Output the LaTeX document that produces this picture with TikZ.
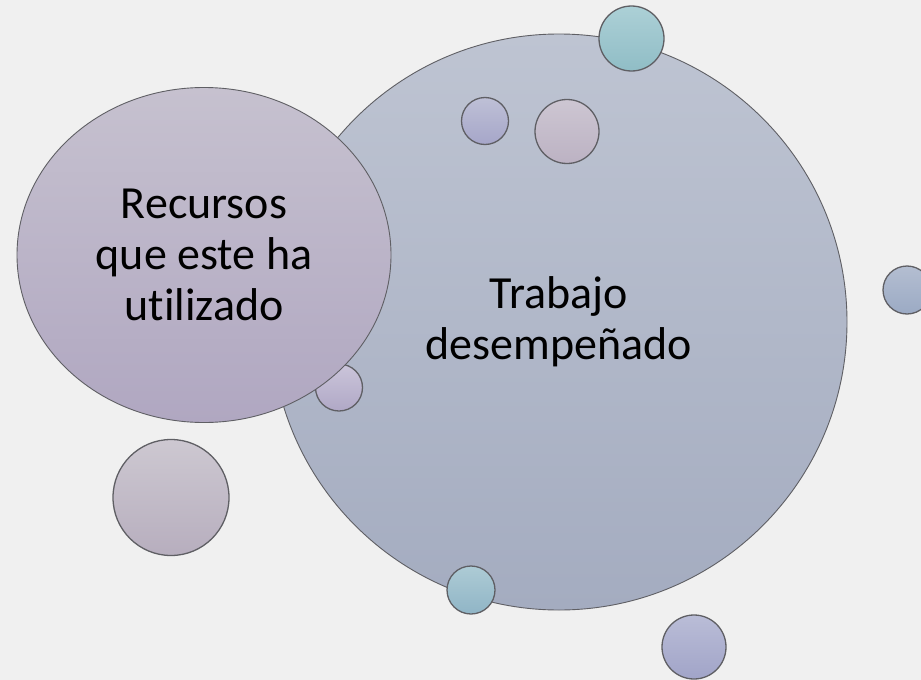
\documentclass[tikz,border=0pt]{standalone}
\usepackage{fontspec}
\setmainfont[RawFeature={-liga}]{Carlito}
\usetikzlibrary{shapes.geometric}
\definecolor{bg}{RGB}{240,240,240}
\definecolor{edge}{RGB}{95,95,100}
\tikzset{
  bubble/.style={circle, draw=edge, line width=1.3pt, inner sep=0pt, minimum size=#1},
  bigbubble/.style={circle, draw=edge, line width=0.9pt, inner sep=0pt, minimum size=#1, align=center,
    font=\fontsize{46}{51}\selectfont},
}
\begin{document}
\begin{tikzpicture}[x=1pt,y=-1pt]
\fill[bg] (0,0) rectangle (921,680);
\useasboundingbox (0,0) rectangle (921,680);
% big circle
\node[bigbubble=576pt, top color={rgb,255:red,190;green,196;blue,210}, bottom color={rgb,255:red,164;green,172;blue,192}]
  (trabajo) at (559,322) {Trabajo\\desempeñado};
% small circle behind ellipse
\node[bubble=47pt, top color={rgb,255:red,203;green,197;blue,218}, bottom color={rgb,255:red,176;green,168;blue,198}]
  (c4) at (339,387.5) {};
% ellipse
\node[ellipse, draw=edge, line width=0.9pt, minimum width=374pt, minimum height=335pt, align=center,
  font=\fontsize{46}{51}\selectfont,
  top color={rgb,255:red,198;green,193;blue,207}, bottom color={rgb,255:red,176;green,167;blue,193}]
  (recursos) at (204,255) {Recursos\\que este ha\\utilizado};
% other small circles
\node[bubble=65pt, top color={rgb,255:red,172;green,208;blue,214}, bottom color={rgb,255:red,144;green,189;blue,198}]
  (c1) at (631.5,38.5) {};
\node[bubble=47pt, top color={rgb,255:red,190;green,192;blue,214}, bottom color={rgb,255:red,166;green,166;blue,201}]
  (c2) at (485,121) {};
\node[bubble=64pt, top color={rgb,255:red,205;green,198;blue,210}, bottom color={rgb,255:red,188;green,178;blue,195}]
  (c3) at (567,131.5) {};
\node[bubble=116pt, top color={rgb,255:red,205;green,200;blue,209}, bottom color={rgb,255:red,183;green,174;blue,190}]
  (c5) at (171,497.5) {};
\node[bubble=48pt, top color={rgb,255:red,173;green,203;blue,213}, bottom color={rgb,255:red,144;green,181;blue,198}]
  (c6) at (471,590) {};
\node[bubble=64pt, top color={rgb,255:red,186;green,189;blue,215}, bottom color={rgb,255:red,161;green,164;blue,200}]
  (c7) at (694,647) {};
\node[bubble=48pt, top color={rgb,255:red,180;green,190;blue,209}, bottom color={rgb,255:red,155;green,170;blue,196}]
  (c8) at (907,290) {};
\end{tikzpicture}
\end{document}
